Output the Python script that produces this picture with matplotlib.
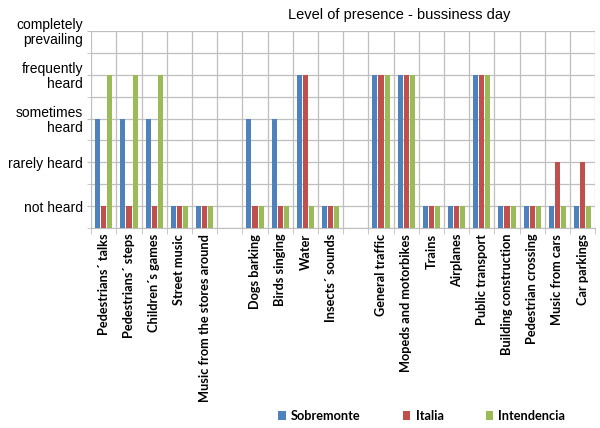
import matplotlib
matplotlib.use("Agg")
import matplotlib.pyplot as plt
from matplotlib.patches import Patch
import numpy as np

# ---- data ----
categories = [
    "Pedestrians\u00b4 talks", "Pedestrians\u00b4 steps", "Children\u00b4s games",
    "Street music", "Music from the stores around",
    "Dogs barking", "Birds singing", "Water", "Insects\u00b4 sounds",
    "General traffic", "Mopeds and motorbikes", "Trains", "Airplanes",
    "Public transport", "Building construction", "Pedestrian crossing",
    "Music from cars", "Car parkings",
]
group_sizes = [5, 4, 9]
sobremonte = [3, 3, 3, 1, 1, 3, 3, 4, 1, 4, 4, 1, 1, 4, 1, 1, 1, 1]
italia     = [1, 1, 1, 1, 1, 1, 1, 4, 1, 4, 4, 1, 1, 4, 1, 1, 2, 2]
intendencia= [4, 4, 4, 1, 1, 1, 1, 1, 1, 4, 4, 1, 1, 4, 1, 1, 1, 1]
series_names = ["Sobremonte", "Italia", "Intendencia"]
level_values = [1, 2, 3, 4, 5]
level_labels = ["not heard", "rarely heard", "sometimes\nheard",
                "frequently\nheard", "completely\nprevailing"]
title = "Level of presence - bussiness day"

colors = ["#4F81BD", "#C0504D", "#9BBB59"]

# positions with one empty slot between groups
positions = []
p = 0
for gi, n in enumerate(group_sizes):
    for _ in range(n):
        positions.append(p)
        p += 1
    p += 1
n_slots = p - 1
positions = np.array(positions)

fig = plt.figure(figsize=(6.0, 4.28), dpi=100)
ax = fig.add_axes([0.152, 0.467, 0.840, 0.461])

base = 0.5
offsets = [-0.245, 0.0, 0.245]
width = 0.2
for vals, off, c in zip([sobremonte, italia, intendencia], offsets, colors):
    v = np.array(vals, dtype=float)
    ax.bar(positions + off, v - base, width=width, bottom=base, color=c,
           edgecolor="none", zorder=3)

ax.set_xlim(-0.5, n_slots - 0.5)
ax.set_ylim(0.5, 5.0)

# grid
ax.set_yticks(level_values)
ax.set_yticklabels(level_labels, fontfamily="Liberation Sans", fontsize=10,
                   linespacing=1.1)
ax.set_yticks(np.arange(0.5, 5.01, 0.5), minor=True)
ax.yaxis.grid(True, which="both", color="#BFBFBF", linewidth=0.9, zorder=0)
ax.tick_params(axis="y", which="both", length=3, color="#BFBFBF", pad=3)

ax.set_xticks(positions)
ax.set_xticklabels(categories, rotation=90, fontfamily="Lato",
                   fontweight="bold", fontsize=9.2, va="top")
ax.set_xticks(np.arange(-0.5, n_slots, 1.0), minor=True)
ax.xaxis.grid(True, which="minor", color="#BFBFBF", linewidth=0.9, zorder=0)
ax.tick_params(axis="x", which="major", length=0, pad=4)
ax.tick_params(axis="x", which="minor", length=4, color="#BFBFBF")

for s in ["top", "right", "left"]:
    ax.spines[s].set_visible(False)
ax.spines["bottom"].set_color("#BFBFBF")
ax.set_axisbelow(True)

fig.text(0.665, 0.965, title, ha="center", va="center",
         fontfamily="Liberation Sans", fontsize=10.5)

handles = [Patch(facecolor=c, edgecolor="none") for c in colors]
fig.legend(handles, series_names, loc="center", bbox_to_anchor=(0.703, 0.028),
           ncol=3, frameon=False, handlelength=0.6, handleheight=0.6,
           handletextpad=0.4, columnspacing=3.3,
           prop={"family": "Lato", "weight": "bold", "size": 9.2})

fig.savefig("out.png", dpi=100)
